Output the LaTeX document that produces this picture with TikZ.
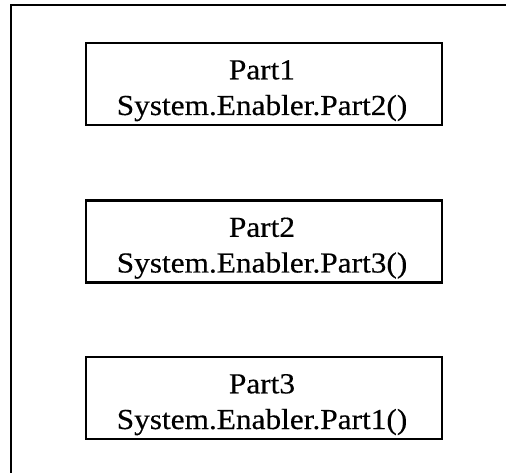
\documentclass[tikz,border=0pt]{standalone}
\usepackage{fontspec}
\setmainfont{Liberation Serif}[FakeStretch=1.08,FakeBold=0.4]
\begin{document}
\begin{tikzpicture}[x=1pt,y=-1pt,
  partbox/.style={draw, line width=2.2pt, minimum width=356pt, minimum height=82pt, inner sep=0pt},
  parttext/.style={anchor=base, inner sep=0pt, font=\fontsize{29}{36}\selectfont},
  frameline/.style={line width=2.2pt}]
\useasboundingbox (0,0) rectangle (506,473);
\coordinate (ftr) at (506,5);
\coordinate (ftl) at (11,5);
\coordinate (fbl) at (11,473);
\draw[frameline] (ftr) -- (ftl) -- (fbl);
% boxes
\node[partbox] (b1) at (264,84) {};
\node[partbox] (b2) at (264,241.5) {};
\node[partbox] (b3) at (264,398) {};
% texts
\node[parttext] (t1a) at (262,79.3) {Part1};
\node[parttext] (t1b) at (262,115) {System.Enabler.Part2()};
\node[parttext] (t2a) at (262,236.8) {Part2};
\node[parttext] (t2b) at (262,272.5) {System.Enabler.Part3()};
\node[parttext] (t3a) at (262,393.3) {Part3};
\node[parttext] (t3b) at (262,429) {System.Enabler.Part1()};
\end{tikzpicture}
\end{document}
